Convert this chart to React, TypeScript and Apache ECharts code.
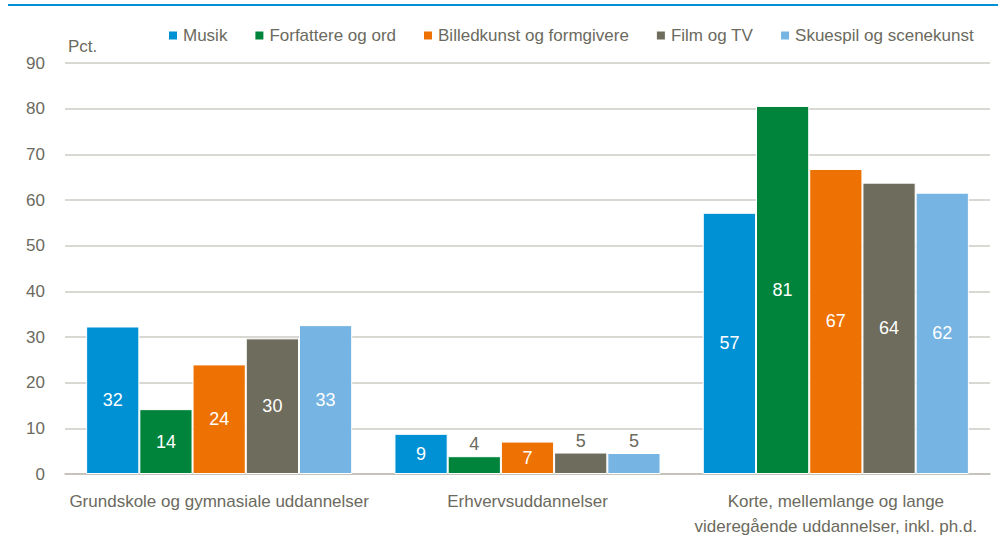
import React, { useEffect, useRef } from "react";
import * as echarts from "echarts";

const categories = [
  "Grundskole og gymnasiale uddannelser",
  "Erhvervsuddannelser",
  "Korte, mellemlange og lange\nvideregående uddannelser, inkl. ph.d.",
];
const seriesNames = [
  "Musik",
  "Forfattere og ord",
  "Billedkunst og formgivere",
  "Film og TV",
  "Skuespil og scenekunst",
];
const musik = [32.3, 8.8, 57.2];
const forfattere = [14.2, 3.9, 80.6];
const billedkunst = [24.0, 7.1, 66.8];
const film = [29.7, 4.7, 63.8];
const skuespil = [32.6, 4.6, 61.6];
const yTicks = [0, 10, 20, 30, 40, 50, 60, 70, 80, 90];

const colors = ["#0090d4", "#00843c", "#ee7203", "#6e6c5c", "#75b4e3"];
const textColor = "#6b6a5e";
const font = "Liberation Sans, Arial, sans-serif";

export default function App() {
  const ref = useRef<HTMLDivElement>(null);
  useEffect(() => {
    const chart = echarts.init(ref.current!, undefined, { renderer: "svg" });
    const all = [musik, forfattere, billedkunst, film, skuespil];
    const series = all.map((vals, i) => ({
      name: seriesNames[i],
      type: "bar",
      barGap: "0%",
      barCategoryGap: "13.7%",
      itemStyle: { color: colors[i], borderColor: "#ffffff", borderWidth: 1 },
      label: {
        show: true,
        position: "inside",
        color: "#ffffff",
        fontSize: 18,
        fontFamily: font,
        formatter: (p: any) => String(Math.round(p.value)),
      },
      data: vals.map((v) =>
        v < 6
          ? { value: v, label: { position: "top", color: textColor, distance: 3 } }
          : { value: v }
      ),
    }));
    chart.setOption({
      animation: false,
      textStyle: { fontFamily: font },
      grid: { left: 65, right: 8, top: 63, bottom: 65 },
      legend: {
        left: 162,
        top: 22,
        itemWidth: 10,
        itemHeight: 10,
        itemGap: 26,
        icon: "rect",
        textStyle: { color: textColor, fontSize: 17, fontFamily: font },
        data: seriesNames,
      },
      graphic: [
        { type: "rect", left: 8, top: 4, shape: { width: 990, height: 2 }, style: { fill: "#0090d4" } },
        {
          type: "text",
          left: 68,
          top: 38,
          style: { text: "Pct.", fill: textColor, fontSize: 17, fontFamily: font },
        },
      ],
      xAxis: {
        type: "category",
        data: categories,
        axisTick: { show: false },
        axisLine: { lineStyle: { color: "#bebcb4", width: 1.5 } },
        axisLabel: {
          color: textColor,
          fontSize: 17,
          fontFamily: font,
          lineHeight: 25,
          margin: 15,
          interval: 0,
        },
      },
      yAxis: {
        type: "value",
        min: yTicks[0],
        max: yTicks[yTicks.length - 1],
        interval: 10,
        axisLine: { show: false },
        axisTick: { show: false },
        splitLine: { lineStyle: { color: "#cdcbc4", width: 1.5 } },
        axisLabel: { color: textColor, fontSize: 17, fontFamily: font, margin: 20 },
      },
      series,
    });
    return () => chart.dispose();
  }, []);
  return (
    <div
      ref={ref}
      style={{ position: "fixed", left: 0, top: 0, width: 998, height: 539, background: "#fff" }}
    />
  );
}
